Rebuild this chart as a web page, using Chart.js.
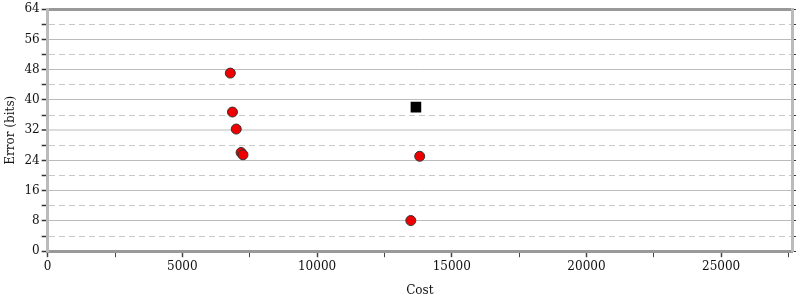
<!DOCTYPE html>
<html>
<head>
<meta charset="utf-8">
<script src="https://cdn.jsdelivr.net/npm/chart.js@4/dist/chart.umd.min.js"></script>
<style>
  html, body { margin: 0; padding: 0; background: #fff; }
</style>
</head>
<body>
<canvas id="chart" width="800" height="300"></canvas>
<script>
// Data
const circleCost = [6780, 6860, 7000, 7180, 7250, 13810, 13480];
const circleError = [47.1, 36.8, 32.3, 26.1, 25.5, 25.1, 8.1];
const squareCost = [13670];
const squareError = [38.1];

// Tick positions (labels only on every other x tick / every other y tick)
const xTickValues = [0, 2500, 5000, 7500, 10000, 12500, 15000, 17500, 20000, 22500, 25000, 27500];
const yTickValues = [0, 4, 8, 12, 16, 20, 24, 28, 32, 36, 40, 44, 48, 52, 56, 60, 64];

const X_MAX = 27630;
const Y_MAX = 64;

Chart.defaults.font.family = "'DejaVu Serif', serif";
Chart.defaults.font.size = 12;
Chart.defaults.color = '#111';

const toPoints = (xs, ys) => xs.map((x, i) => ({ x: x, y: ys[i] }));
const setTicks = values => scale => { scale.ticks = values.map(v => ({ value: v })); };

const isMajorY = v => v % 8 === 0;

// grid line look per y value
function gridColor(ctx) {
    if (!ctx.tick) return '#bbb';
    const v = ctx.tick.value;
    if (v === Y_MAX) return '#999';
    if (v === 32) return '#ddd';
    return isMajorY(v) ? '#bbb' : '#c8c8c8';
}
function gridWidth(ctx) {
    if (!ctx.tick) return 1;
    const v = ctx.tick.value;
    if (v === Y_MAX) return 3;
    if (v === 32) return 2;
    return 1;
}

new Chart(document.getElementById('chart').getContext('2d'), {
    type: 'scatter',
    data: {
        datasets: [
            {
                label: 'points',
                data: toPoints(circleCost, circleError),
                pointStyle: 'circle',
                pointRadius: 5,
                backgroundColor: '#ee0000',
                borderColor: '#333',
                borderWidth: 1
            },
            {
                label: 'reference',
                data: toPoints(squareCost, squareError),
                pointStyle: 'rect',
                pointRadius: 7.5,
                backgroundColor: '#000',
                borderColor: '#000',
                borderWidth: 0
            }
        ]
    },
    options: {
        responsive: false,
        animation: false,
        layout: { padding: { top: 6, right: 4, left: 4, bottom: 2 } },
        plugins: {
            legend: { display: false },
            tooltip: { enabled: false }
        },
        scales: {
            x: {
                type: 'linear',
                min: 0,
                max: X_MAX,
                afterBuildTicks: setTicks(xTickValues),
                ticks: {
                    autoSkip: false,
                    maxRotation: 0,
                    padding: 2,
                    callback: v => (v % 5000 === 0 ? String(v) : '')
                },
                grid: {
                    drawOnChartArea: false,
                    tickLength: 6,
                    tickColor: '#444',
                    tickWidth: ctx => (ctx.tick && ctx.tick.value % 5000 === 0 ? 1.5 : 1)
                },
                border: { color: '#999', width: 3 },
                title: { display: true, text: 'Cost', padding: { top: 8, bottom: 0 } }
            },
            y: {
                type: 'linear',
                min: 0,
                max: Y_MAX,
                afterBuildTicks: setTicks(yTickValues),
                ticks: {
                    autoSkip: false,
                    padding: 2,
                    callback: v => (isMajorY(v) ? String(v) : '')
                },
                grid: {
                    tickLength: 6,
                    tickColor: '#333',
                    tickWidth: 1.5,
                    color: gridColor,
                    lineWidth: gridWidth
                },
                border: {
                    color: '#bbb',
                    width: 3,
                    dash: ctx => (ctx.tick && !isMajorY(ctx.tick.value) ? [6, 4] : [])
                },
                title: { display: true, text: 'Error (bits)', padding: { top: 0, bottom: 4 } }
            },
            yRight: {
                type: 'linear',
                position: 'right',
                min: 0,
                max: Y_MAX,
                afterBuildTicks: setTicks(yTickValues),
                ticks: { display: false },
                grid: {
                    drawOnChartArea: false,
                    tickLength: 4,
                    tickColor: '#333'
                },
                border: { color: '#bbb', width: 3 }
            }
        }
    }
});
</script>
</body>
</html>
